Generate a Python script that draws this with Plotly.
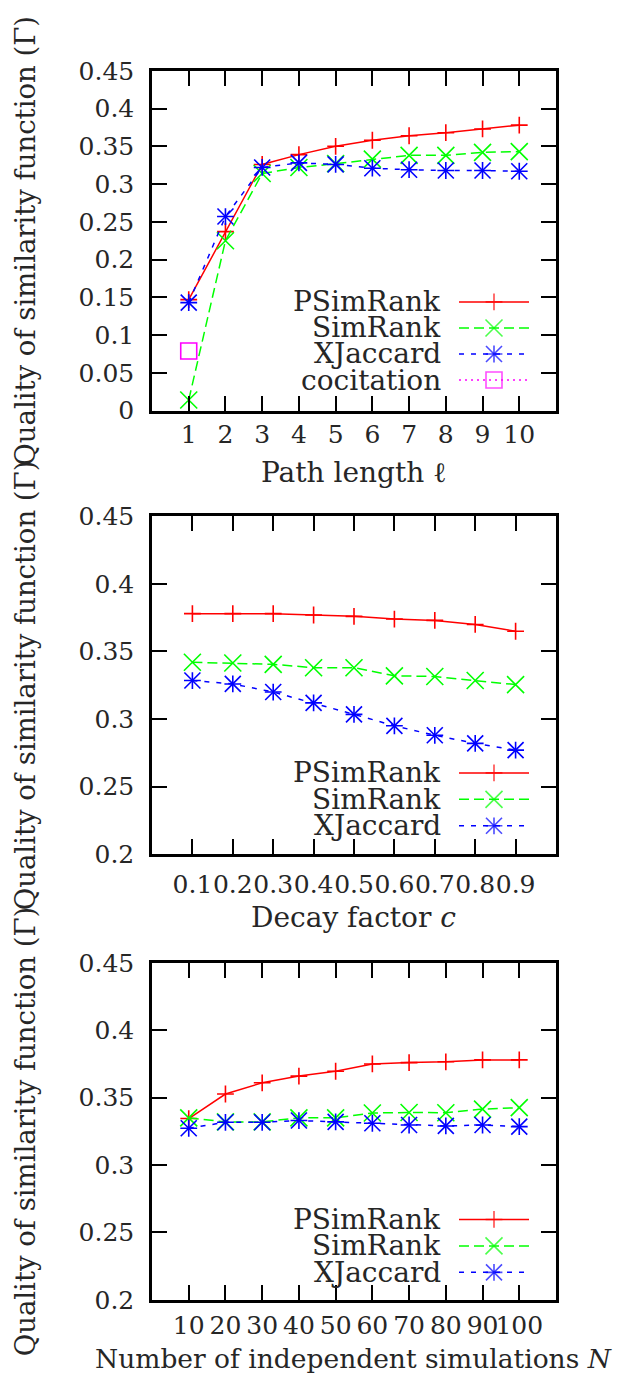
import plotly.graph_objects as go

W, H = 617, 1398
FONT = "DejaVu Serif"
TXT = "#262626"

# ---------------- data ----------------
path_len = [1, 2, 3, 4, 5, 6, 7, 8, 9, 10]
p1_psimrank = [0.147, 0.237, 0.326, 0.339, 0.350, 0.358, 0.364, 0.368, 0.373, 0.378]
p1_simrank = [0.014, 0.225, 0.314, 0.322, 0.327, 0.333, 0.338, 0.338, 0.342, 0.343]
p1_xjaccard = [0.143, 0.257, 0.322, 0.328, 0.326, 0.321, 0.319, 0.318, 0.318, 0.317]
p1_cocit_x = [1]
p1_cocitation = [0.079]

decay = [0.1, 0.2, 0.3, 0.4, 0.5, 0.6, 0.7, 0.8, 0.9]
decay_labels = ["0.1", "0.2", "0.3", "0.4", "0.5", "0.6", "0.7", "0.8", "0.9"]
p2_psimrank = [0.378, 0.378, 0.378, 0.377, 0.376, 0.374, 0.373, 0.370, 0.365]
p2_simrank = [0.342, 0.3415, 0.3405, 0.338, 0.338, 0.332, 0.3315, 0.3285, 0.3255]
p2_xjaccard = [0.3285, 0.326, 0.320, 0.312, 0.3035, 0.295, 0.288, 0.282, 0.277]

nsim = [10, 20, 30, 40, 50, 60, 70, 80, 90, 100]
p3_psimrank = [0.3345, 0.3527, 0.361, 0.366, 0.3696, 0.375, 0.376, 0.3766, 0.378, 0.378]
p3_simrank = [0.335, 0.332, 0.332, 0.335, 0.335, 0.3386, 0.339, 0.3388, 0.3415, 0.3426]
p3_xjaccard = [0.3273, 0.3317, 0.3317, 0.333, 0.332, 0.331, 0.3297, 0.329, 0.3297, 0.3285]

y1_ticks = [0, 0.05, 0.1, 0.15, 0.2, 0.25, 0.3, 0.35, 0.4, 0.45]
y1_labels = ["0", "0.05", "0.1", "0.15", "0.2", "0.25", "0.3", "0.35", "0.4", "0.45"]
y23_ticks = [0.2, 0.25, 0.3, 0.35, 0.4, 0.45]
y23_labels = ["0.2", "0.25", "0.3", "0.35", "0.4", "0.45"]

x_titles = ["Path length ℓ", "Decay factor <i>c</i>", "Number of independent simulations <i>N</i>"]
y_title = "Quality of similarity function (Γ)"

# ---------------- styles ----------------
COL = {"PSimRank": "#FF0000", "SimRank": "#00FF00", "XJaccard": "#0000FF", "cocitation": "#FF00FF"}
# each series: list of (symbol, size) overlaid at every point
SYM = {
    "PSimRank": [("cross-thin", 12)],
    "SimRank": [("x-thin", 17)],
    "XJaccard": [("cross-thin", 12), ("x-thin", 16)],
    "cocitation": [("square-open", 16)],
}
DASH = {"PSimRank": "solid", "SimRank": "10px,5px", "XJaccard": "5px,7px", "cocitation": "2px,4px"}
MLW = 1.6


def xf(px):
    return px / W


def yf(py):
    return 1 - py / H


X0, X1 = 152, 556
PANELS = [(58, 405), (513, 858), (969, 1313)]
XLAB_STANDOFF = [0, 6, 1]
XTITLE_OFFSET = [63, 65, 60]
XTITLE_SIZE = [28, 28, 26.5]

fig = go.Figure()


def add_series(name, xs, ys, xa, ya, marker_mask=None):
    c = COL[name]
    for j, (sym, sz) in enumerate(SYM[name]):
        size = sz if marker_mask is None else [sz * m for m in marker_mask]
        fig.add_trace(go.Scatter(
            x=xs, y=ys, mode="lines+markers" if j == 0 else "markers", name=name,
            xaxis=xa, yaxis=ya,
            line=dict(color=c, width=1.5, dash=DASH[name]),
            marker=dict(symbol=sym, size=size, color=c, line=dict(color=c, width=MLW)),
            showlegend=False, cliponaxis=False, hoverinfo="skip" if j else None,
        ))


panel_data = [
    (path_len, [("PSimRank", p1_psimrank), ("SimRank", p1_simrank), ("XJaccard", p1_xjaccard)]),
    (decay, [("PSimRank", p2_psimrank), ("SimRank", p2_simrank), ("XJaccard", p2_xjaccard)]),
    (nsim, [("PSimRank", p3_psimrank), ("SimRank", p3_simrank), ("XJaccard", p3_xjaccard)]),
]
for k, (xs, series) in enumerate(panel_data):
    sfx = "" if k == 0 else str(k + 1)
    for name, ys in series:
        add_series(name, xs, ys, "x" + sfx, "y" + sfx)
    if k == 0:
        add_series("cocitation", p1_cocit_x, p1_cocitation, "x", "y")

axis_common = dict(
    showline=True, linewidth=2.5, linecolor="black", mirror="allticks",
    ticks="inside", ticklen=15, tickwidth=2, tickcolor="black",
    showgrid=False, zeroline=False,
    tickfont=dict(family=FONT, size=25, color=TXT),
)

layout = dict(
    width=W, height=H, margin=dict(l=0, r=0, t=0, b=0),
    paper_bgcolor="white", plot_bgcolor="rgba(0,0,0,0)",
    showlegend=False,
)

x_specs = [
    dict(range=[0, 11], tickvals=path_len, ticktext=[str(v) for v in path_len]),
    dict(range=[0, 1], tickvals=decay, ticktext=decay_labels),
    dict(range=[0, 110], tickvals=nsim, ticktext=[str(v) for v in nsim]),
]
y_specs = [
    dict(range=[0, 0.45], tickvals=y1_ticks, ticktext=y1_labels),
    dict(range=[0.2, 0.45], tickvals=y23_ticks, ticktext=y23_labels),
    dict(range=[0.2, 0.45], tickvals=y23_ticks, ticktext=y23_labels),
]

annotations = []
for k, (top, bot) in enumerate(PANELS):
    sfx = "" if k == 0 else str(k + 1)
    layout["xaxis" + sfx] = dict(axis_common, domain=[xf(X0), xf(X1)], anchor="y" + sfx,
                                 tickangle=0, ticklabelstandoff=XLAB_STANDOFF[k], **x_specs[k])
    layout["yaxis" + sfx] = dict(axis_common, domain=[yf(bot), yf(top)], anchor="x" + sfx,
                                 ticklabelstandoff=10, **y_specs[k])
    annotations.append(dict(
        text=x_titles[k], xref="paper", yref="paper",
        x=xf((X0 + X1) / 2), y=yf(bot + XTITLE_OFFSET[k]), xanchor="center", yanchor="middle",
        showarrow=False, font=dict(family=FONT, size=XTITLE_SIZE[k], color=TXT)))
    annotations.append(dict(
        text=y_title, xref="paper", yref="paper", textangle=-90,
        x=xf(25), y=yf((top + bot) / 2), xanchor="center", yanchor="middle",
        showarrow=False, font=dict(family=FONT, size=27.5, color=TXT)))

# legend canvas (pixel coordinates over whole figure)
layout["xaxis4"] = dict(domain=[0, 1], range=[0, W], visible=False, anchor="y4", fixedrange=True)
layout["yaxis4"] = dict(domain=[0, 1], range=[H, 0], visible=False, anchor="x4", fixedrange=True)

legend_rows = [
    (["PSimRank", "SimRank", "XJaccard", "cocitation"], 294, 26.6),
    (["PSimRank", "SimRank", "XJaccard"], 775, 27.0),
    (["PSimRank", "SimRank", "XJaccard"], 1231, 27.0),
]
for names, y0, dy in legend_rows:
    for i, name in enumerate(names):
        yy = y0 + i * dy
        add_series(name, [459, 494, 529], [yy, yy, yy], "x4", "y4", marker_mask=[0, 1, 0])
        annotations.append(dict(
            text=name, xref="paper", yref="paper", x=xf(443), y=yf(yy),
            xanchor="right", yanchor="middle", showarrow=False,
            font=dict(family=FONT, size=28, color=TXT)))

layout["annotations"] = annotations
fig.update_layout(**layout)
fig.write_html("out.html")
